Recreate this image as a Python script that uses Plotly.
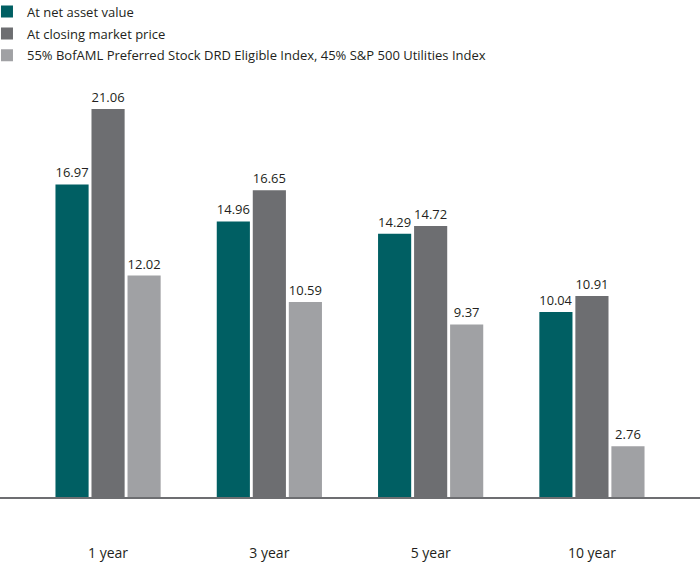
import plotly.graph_objects as go

categories = ["1 year", "3 year", "5 year", "10 year"]
series_names = [
    "At net asset value",
    "At closing market price",
    "55% BofAML Preferred Stock DRD Eligible Index, 45% S&P 500 Utilities Index",
]
nav = [16.97, 14.96, 14.29, 10.04]
market = [21.06, 16.65, 14.72, 10.91]
index_vals = [12.02, 10.59, 9.37, 2.76]
colors = ["#005F63", "#6D6E71", "#A0A1A4"]

FONT = "Open Sans"
fig = go.Figure()
for i, (name, vals, col) in enumerate(zip(series_names, [nav, market, index_vals], colors)):
    fig.add_trace(go.Bar(
        x=categories, y=vals, name=name, legendgroup=f"g{i}",
        marker=dict(color=col, line=dict(width=0)),
        text=[f"{v:.2f}" for v in vals], textposition="outside",
        textfont=dict(family=FONT, size=13, color="#231F20"),
        cliponaxis=False,
    ))

fig.update_layout(
    width=700, height=565,
    margin=dict(l=0, r=0, t=80, b=68, autoexpand=False),
    paper_bgcolor="white", plot_bgcolor="white",
    barmode="group", bargap=0.33, bargroupgap=0.08,
    showlegend=True,
    legend=dict(x=-0.0186, y=1.2, xanchor="left", yanchor="top",
                font=dict(family=FONT, size=13, color="#231F20"),
                bgcolor="rgba(0,0,0,0)", tracegroupgap=2),
    font=dict(family=FONT, color="#231F20"),
    xaxis=dict(range=[-0.67, 3.67], showgrid=False, showline=True,
               linecolor="#6D6E71", linewidth=2, ticks="",
               tickfont=dict(family=FONT, size=14, color="#231F20"),
               ticklabelstandoff=42),
    yaxis=dict(range=[0, 22.64], visible=False, showgrid=False, zeroline=False),
)
fig.write_html("out.html", config={"displayModeBar": False},
               post_script="document.body.style.margin='0px';")
